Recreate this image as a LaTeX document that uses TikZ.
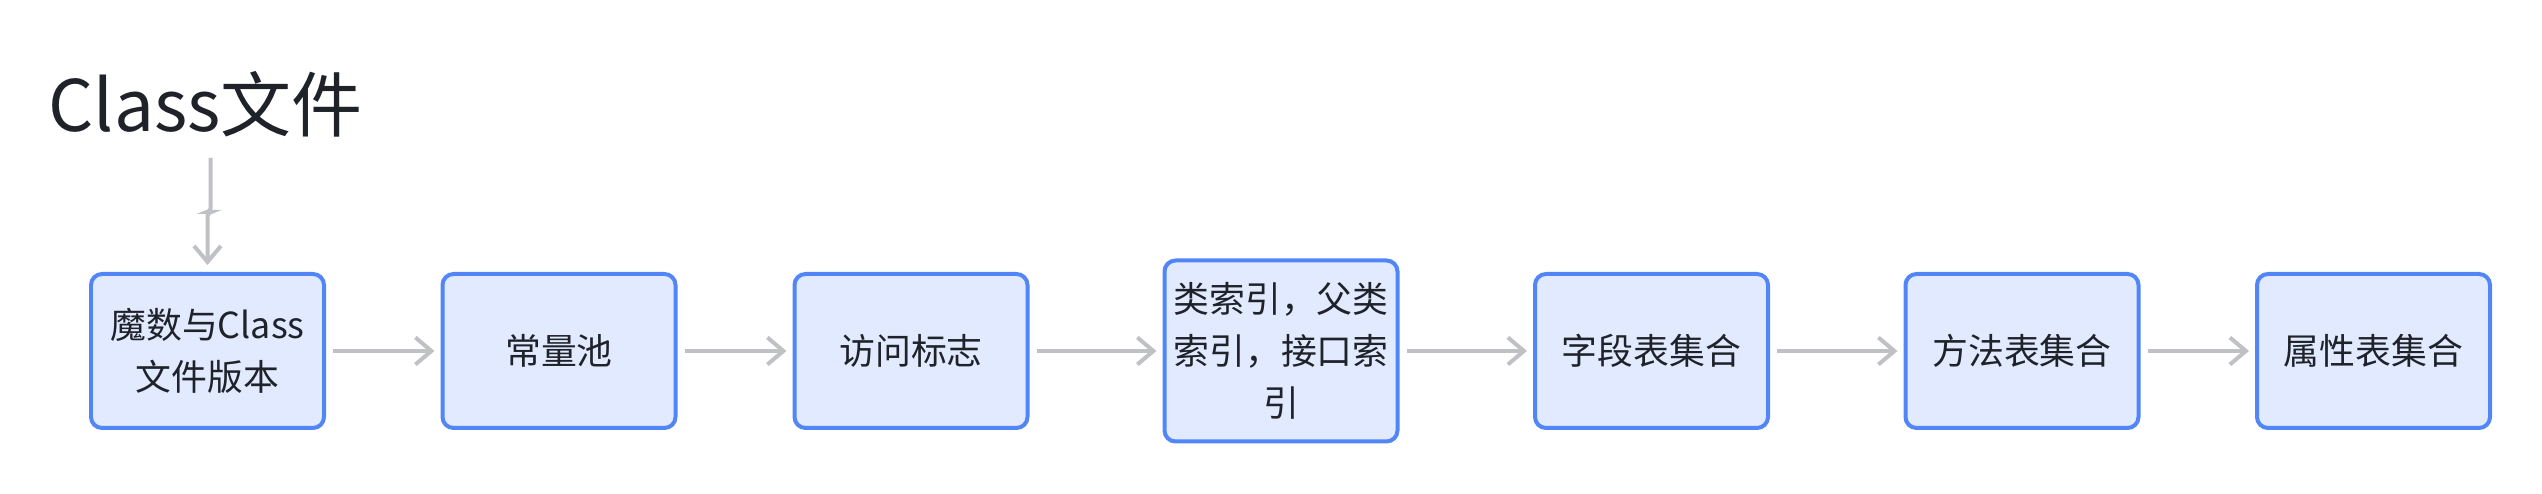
\documentclass[tikz,border=0pt]{standalone}
\usepackage{fontspec}
\setmainfont{Noto Sans CJK SC}
\usetikzlibrary{positioning,arrows.meta}

\definecolor{boxfill}{HTML}{E1EAFF}
\definecolor{boxline}{HTML}{5286F7}
\definecolor{linkgray}{HTML}{BFC1C5}
\definecolor{inkdark}{HTML}{1F2329}

\tikzstyle{stage} = [rectangle, rounded corners=0.11cm, minimum width=2.33cm, minimum height=1.54cm, inner sep=0pt, outer sep=0pt, text centered, align=center, draw=boxline, fill=boxfill, line width=0.04cm, text=inkdark, font=\fontsize{10.2pt}{14.8pt}\selectfont]
\tikzstyle{tall} = [minimum height=1.81cm]
\tikzstyle{link} = [line width=0.04cm, draw=linkgray, -{Straight Barb[length=0.16cm, width=0.27cm, line width=0.04cm]}, shorten <=0.09cm, shorten >=0.08cm]

\begin{document}
\begin{tikzpicture}
        \useasboundingbox (0,0) rectangle (25.42,4.94);
        % Nodes
        \node (title) [anchor=base west, inner sep=0pt, text=inkdark, font=\fontsize{20.2pt}{24pt}\selectfont] at (0.48,3.62) {Class文件};
        \node (magic) [stage] at (2.075,1.43) {魔数与Class\\文件版本};
        \node (pool) [stage, right=1.185cm of magic] {常量池};
        \node (flags) [stage, right=1.19cm of pool] {访问标志};
        \node (index) [stage, tall, right=1.37cm of flags] {类索引，父类\\索引，接口索\\引};
        \node (fields) [stage, right=1.375cm of index] {字段表集合};
        \node (methods) [stage, right=1.375cm of fields] {方法表集合};
        \node (attrs) [stage, right=1.185cm of methods] {属性表集合};

        % Arrows
        \draw [link, shorten <=0cm, shorten >=0.09cm, rounded corners=0.04cm] ([shift={(0.05,-0.26)}]title.base) -- ++(0,-0.54) -| (magic.north);
        \draw [link] (magic) -- (pool);
        \draw [link] (pool) -- (flags);
        \draw [link] (flags) -- (index);
        \draw [link] (index) -- (fields);
        \draw [link] (fields) -- (methods);
        \draw [link] (methods) -- (attrs);
    \end{tikzpicture}
\end{document}
